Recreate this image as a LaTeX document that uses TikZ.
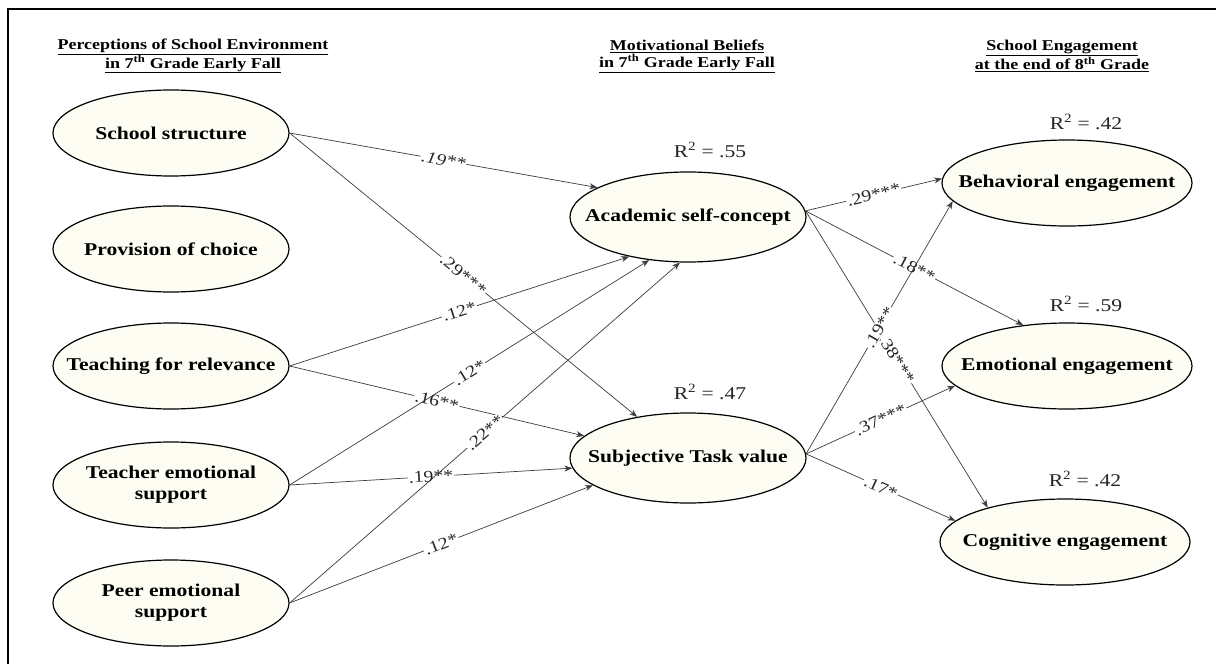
\documentclass[tikz,border=0pt]{standalone}
\usepackage{fontspec}
\setmainfont{Liberation Serif}[FakeStretch=1.2]
\usetikzlibrary{shapes.geometric,arrows.meta}
\definecolor{cream}{RGB}{253,253,244}
\definecolor{edgegray}{RGB}{60,60,60}
\begin{document}
\begin{tikzpicture}[x=1pt,y=-1pt,
  latent/.style={ellipse, draw=black, line width=1.2pt, fill=cream, inner sep=0pt,
    font=\fontsize{18}{21}\selectfont\bfseries},
  lft/.style={latent, minimum width=236pt, minimum height=86pt},
  mid/.style={latent, minimum width=236pt, minimum height=90pt},
  rgt/.style={latent, minimum width=250pt, minimum height=86pt},
  hdr/.style={align=center, font=\fontsize{15}{17}\selectfont\bfseries, inner sep=0pt},
  rsq/.style={font=\fontsize{18}{21}\selectfont, inner sep=0pt, text=black!85},
  edge/.style={draw=edgegray, line width=0.7pt, -{Stealth[length=8pt,width=6pt]}},
  lbl/.style={sloped, fill=white, inner sep=1pt, font=\fontsize{16.5}{18}\selectfont, text=black!85}
]
\useasboundingbox (0,0) rectangle (1216,664);
\fill[white] (0,0) rectangle (1216,664);
% frame
\coordinate (fa) at (8,664);
\coordinate (fb) at (8,9);
\coordinate (fc) at (1216,9);
\draw[line width=2pt] (fa) -- (fb) -- (fc);

% headers
\node[hdr] (h1) at (193,56) {\underline{Perceptions of School Environment}\\\underline{in 7\textsuperscript{th} Grade Early Fall}};
\node[hdr] (h2) at (687,56) {\underline{Motivational Beliefs}\\\underline{in 7\textsuperscript{th} Grade Early Fall}};
\node[hdr] (h3) at (1062,56) {\underline{School Engagement}\\\underline{at the end of 8\textsuperscript{th} Grade}};

% left column
\node[lft] (ss)  at (171,133) {\makebox[0pt]{School structure}};
\node[lft] (pc)  at (171,249) {\makebox[0pt]{Provision of choice}};
\node[lft] (tfr) at (171,366) {\makebox[0pt]{Teaching for relevance}};
\node[lft] (tes) at (171,485) {\makebox[0pt]{\begin{tabular}{@{}c@{}}Teacher emotional\\support\end{tabular}}};
\node[lft] (pes) at (171,603) {\makebox[0pt]{\begin{tabular}{@{}c@{}}Peer emotional\\support\end{tabular}}};

% middle column
\node[mid] (asc) at (688,217) {\makebox[0pt]{Academic self-concept}};
\node[mid] (stv) at (688,458) {\makebox[0pt]{Subjective Task value}};
\node[rsq] (r1) at (710,150) {R\textsuperscript{2} = .55};
\node[rsq] (r2) at (710,392) {R\textsuperscript{2} = .47};

% right column
\node[rgt] (be) at (1067,183) {\makebox[0pt]{Behavioral engagement}};
\node[rgt] (ee) at (1067,366) {\makebox[0pt]{Emotional engagement}};
\node[rgt] (ce) at (1065,542) {\makebox[0pt]{Cognitive engagement}};
\node[rsq] (r3) at (1086,122) {R\textsuperscript{2} = .42};
\node[rsq] (r4) at (1086,304) {R\textsuperscript{2} = .59};
\node[rsq] (r5) at (1085,479) {R\textsuperscript{2} = .42};

% paths left -> middle
\draw[edge] (ss.east)  -- node[lbl]{\textit{.19**}} (asc.162);
\draw[edge] (ss.east)  -- node[lbl]{.29***} (stv.141);
\draw[edge] (tfr.east) -- node[lbl]{.12*} (asc.214);
\draw[edge] (tfr.east) -- node[lbl]{.16**} (stv.168);
\draw[edge] (tes.east) -- node[lbl]{.12*} (asc.228);
\draw[edge] (tes.east) -- node[lbl]{.19**} (stv.185);
\draw[edge] (pes.east) -- node[lbl]{.22**} (asc.260);
\draw[edge] (pes.east) -- node[lbl]{.12*} (stv.196);

% paths middle -> right
\draw[edge] (asc.3) -- node[lbl]{.29***} (be.178);
\draw[edge] (asc.3) -- node[lbl]{.18**} (ee.137);
\draw[edge] (asc.3) -- node[lbl]{.38***} (ce.156);
\draw[edge] (stv.2) -- node[lbl]{.19**} (be.189);
\draw[edge] (stv.2) -- node[lbl]{.37***} (ee.190);
\draw[edge] (stv.2) -- node[lbl]{.17*} (ce.169);
\end{tikzpicture}
\end{document}
